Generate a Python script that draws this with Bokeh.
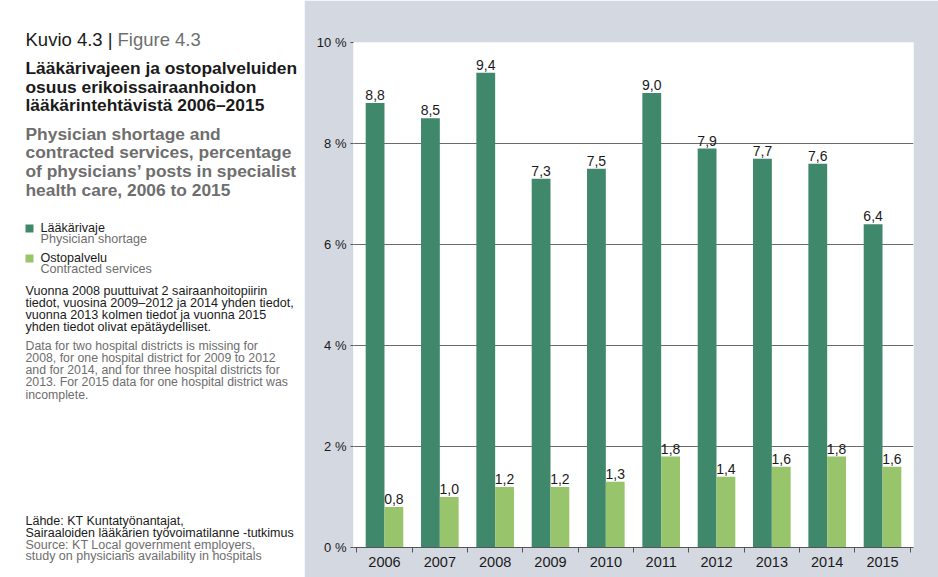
from bokeh.plotting import figure
from bokeh.models import Range1d, FixedTicker, ColumnDataSource, Label
from bokeh.layouts import row
from bokeh.embed import file_html
from bokeh.resources import INLINE
from bokeh.core.properties import value
from bokeh.transform import dodge

# ---------------- data ----------------
years = [2006, 2007, 2008, 2009, 2010, 2011, 2012, 2013, 2014, 2015]
shortage = [8.8, 8.5, 9.4, 7.3, 7.5, 9.0, 7.9, 7.7, 7.6, 6.4]
contracted = [0.8, 1.0, 1.2, 1.2, 1.3, 1.8, 1.4, 1.6, 1.8, 1.6]
y_ticks = [0, 2, 4, 6, 8, 10]
y_tick_labels = ["0 %", "2 %", "4 %", "6 %", "8 %", "10 %"]
year_labels = [str(y) for y in years]

kuvio = "Kuvio 4.3 |"
figure_lbl = "Figure 4.3"
title_fi = ["Lääkärivajeen ja ostopalveluiden", "osuus erikoissairaanhoidon",
            "lääkärintehtävistä 2006–2015"]
title_en = ["Physician shortage and", "contracted services, percentage",
            "of physicians’ posts in specialist", "health care, 2006 to 2015"]
legend_fi = ["Lääkärivaje", "Ostopalvelu"]
legend_en = ["Physician shortage", "Contracted services"]
note_fi = ["Vuonna 2008 puuttuivat 2 sairaanhoitopiirin",
           "tiedot, vuosina 2009–2012 ja 2014 yhden tiedot,",
           "vuonna 2013 kolmen tiedot ja vuonna 2015",
           "yhden tiedot olivat epätäydelliset."]
note_en = ["Data for two hospital districts is missing for",
           "2008, for one hospital district for 2009 to 2012",
           "and for 2014, and for three hospital districts for",
           "2013. For 2015 data for one hospital district was",
           "incomplete."]
source_fi = ["Lähde: KT Kuntatyönantajat,",
             "Sairaaloiden lääkärien työvoimatilanne -tutkimus"]
source_en = ["Source: KT Local government employers,",
             "study on physicians availability in hospitals"]

# ---------------- style ----------------
DARK = "#40886c"
LIGHT = "#98c46b"
PANEL = "#d4d8e1"
BLACK = "#1a1a1a"
GREY = "#6e6e6e"
FONT = "Liberation Sans"

W, H = 938, 577
LW = 304
F_TOP, F_BOT = 42, 547          # frame top / bottom in page pixels
F_LEFT, F_RIGHT = 353, 913

# ---------------- left text panel ----------------
left = figure(width=LW, height=H, x_range=Range1d(0, LW), y_range=Range1d(H, 0),
              output_backend="svg", toolbar_location=None, min_border=0,
              background_fill_color="white", border_fill_color="white",
              outline_line_color=None)
left.frame_align = False
left.axis.visible = False
left.grid.visible = False

X0 = 25


def put(x, y, t, size, color, style="normal"):
    left.add_layout(Label(x=x, y=y, text=t, text_font=FONT,
                          text_font_size=f"{size}px", text_color=color,
                          text_font_style=style, text_baseline="middle",
                          text_align="left"))


put(X0, 38.5, kuvio, 18.5, BLACK)
put(X0 + 92, 38.5, figure_lbl, 18.5, GREY)
for i, t in enumerate(title_fi):
    put(X0, 67.5 + i * 18.5, t, 17.4, BLACK, "bold")
for i, t in enumerate(title_en):
    put(X0, 133 + i * 18.7, t, 17.4, GREY, "bold")

for i, (fi, en, c) in enumerate(zip(legend_fi, legend_en, [DARK, LIGHT])):
    yc = 227 + i * 30
    left.quad(left=[X0], right=[X0 + 8], top=[yc - 3], bottom=[yc + 5],
              color=c, line_color=None)
    put(X0 + 15, yc, fi, 12.6, BLACK)
    put(X0 + 15, yc + 11.7, en, 12.6, GREY)

for i, t in enumerate(note_fi):
    put(X0, 290 + i * 12.3, t, 12.6, BLACK)
for i, t in enumerate(note_en):
    put(X0, 345 + i * 12.3, t, 12.3, GREY)

for i, t in enumerate(source_fi):
    put(X0, 520.5 + i * 11.7, t, 12.5, BLACK)
for i, t in enumerate(source_en):
    put(X0, 544 + i * 11.7, t, 12.5, GREY)

# ---------------- chart ----------------
src = ColumnDataSource(dict(
    year=years, shortage=shortage, contracted=contracted,
    s_lbl=[f"{v:.1f}".replace(".", ",") for v in shortage],
    c_lbl=[f"{v:.1f}".replace(".", ",") for v in contracted],
))

p = figure(width=W - LW, height=H, x_range=Range1d(2005.44, 2015.56),
           y_range=Range1d(0, 10), output_backend="svg", toolbar_location=None,
           min_border_left=F_LEFT - LW, min_border_right=W - F_RIGHT,
           min_border_top=F_TOP, min_border_bottom=H - F_BOT,
           background_fill_color="white",
           border_fill_color=PANEL, outline_line_color=None)
p.frame_align = False

OFF, BW = 0.17, 0.34
p.vbar(x=dodge("year", -OFF, range=p.x_range), top="shortage", width=BW,
       source=src, color=DARK, line_color=None)
p.vbar(x=dodge("year", OFF, range=p.x_range), top="contracted", width=BW,
       source=src, color=LIGHT, line_color=None)

for col, lbl, dx in [("shortage", "s_lbl", -OFF), ("contracted", "c_lbl", OFF)]:
    p.text(x=dodge("year", dx, range=p.x_range), y=col, text=lbl, source=src,
           text_align="center", text_baseline="middle", y_offset=-8,
           text_font=value(FONT), text_font_size="14px", text_color=BLACK)

# y axis
p.yaxis.ticker = FixedTicker(ticks=y_ticks)
p.yaxis.major_label_overrides = {t: l for t, l in zip(y_ticks, y_tick_labels)}
p.yaxis.axis_line_color = None
p.yaxis.major_tick_out = 3
p.yaxis.major_tick_in = 0
p.yaxis.minor_tick_out = 0
p.yaxis.minor_tick_in = 0
p.yaxis.major_tick_line_color = "#555555"
p.yaxis.major_label_text_font = FONT
p.yaxis.major_label_text_font_size = "13px"
p.yaxis.major_label_text_color = BLACK
p.yaxis.major_label_standoff = 4

# x axis
p.xaxis.ticker = FixedTicker(ticks=years,
                             minor_ticks=[y + 0.5 for y in [years[0] - 1] + years])
p.xaxis.major_label_overrides = {y: l for y, l in zip(years, year_labels)}
p.xaxis.axis_line_color = "#555555"
p.xaxis.major_tick_out = 0
p.xaxis.major_tick_in = 0
p.xaxis.minor_tick_out = 5
p.xaxis.minor_tick_in = 0
p.xaxis.minor_tick_line_color = "#555555"
p.xaxis.major_label_text_font = FONT
p.xaxis.major_label_text_font_size = "14.5px"
p.xaxis.major_label_text_color = BLACK
p.xaxis.major_label_standoff = 4

p.xgrid.visible = False
p.ygrid.ticker = FixedTicker(ticks=[2, 4, 6, 8])
p.ygrid.grid_line_color = "#6a6a6a"
p.ygrid.grid_line_width = 1

layout = row(left, p, spacing=0)
open("out.html", "w").write(file_html(layout, INLINE))
